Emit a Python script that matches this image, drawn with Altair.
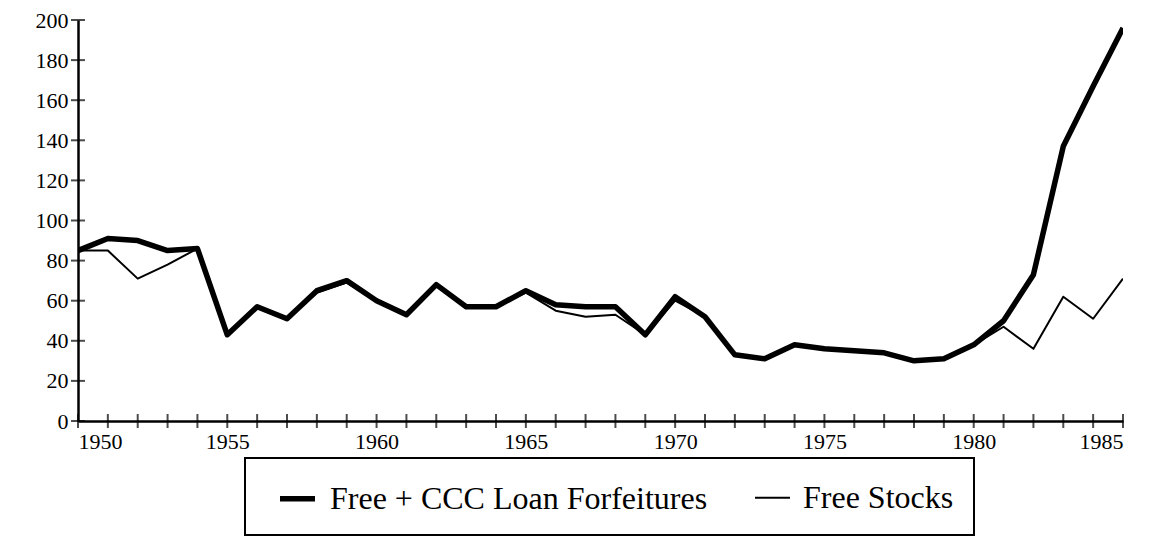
import altair as alt
import pandas as pd

years = list(range(1950, 1986))
free_ccc = [85, 91, 90, 85, 86, 43, 57, 51, 65, 70, 60, 53, 68, 57, 57, 65, 58, 57, 57, 43,
            62, 52, 33, 31, 38, 36, 35, 34, 30, 31, 38, 50, 73, 137, 167, 196]
free_stocks = [85, 85, 71, 78, 86, 43, 57, 51, 64, 69, 60, 53, 68, 57, 57, 64, 55, 52, 53, 43,
               60, 52, 33, 31, 38, 36, 35, 34, 30, 31, 38, 47, 36, 62, 51, 71]
series_names = ["Free + CCC Loan Forfeitures", "Free Stocks"]
x_label_years = [1950, 1955, 1960, 1965, 1970, 1975, 1980, 1985]
y_ticks = [0, 20, 40, 60, 80, 100, 120, 140, 160, 180, 200]

FONT = "Liberation Serif, DejaVu Serif, serif"

df = pd.DataFrame({
    "year": years * 2,
    "value": free_ccc + free_stocks,
    "series": [series_names[0]] * len(years) + [series_names[1]] * len(years),
})
xt = pd.DataFrame({"year": years, "value": [0] * len(years)})
yt = pd.DataFrame({"year": [1950] * len(y_ticks), "value": y_ticks})

xscale = alt.Scale(domain=[1950, 1985], nice=False)
yscale = alt.Scale(domain=[0, 200], nice=False)

lines = alt.Chart(df).mark_line(color="black", clip=True, strokeJoin="round").encode(
    x=alt.X("year:Q", scale=xscale,
            axis=alt.Axis(values=x_label_years, format="d", title=None, ticks=False,
                          labelFlush=True, labelPadding=10, grid=False,
                          domainColor="black", domainWidth=2.5,
                          labelFont=FONT, labelFontSize=22, labelColor="black")),
    y=alt.Y("value:Q", scale=yscale,
            axis=alt.Axis(values=y_ticks, title=None, ticks=False, grid=False,
                          labelPadding=10, domainColor="black", domainWidth=2.5,
                          labelFont=FONT, labelFontSize=22, labelColor="black")),
    strokeWidth=alt.StrokeWidth(
        "series:N",
        scale=alt.Scale(domain=series_names, range=[5.5, 2]),
        legend=alt.Legend(
            title=None, orient="none", legendX=167, legendY=438,
            direction="horizontal", symbolType="stroke", symbolSize=1225,
            symbolStrokeColor="black", strokeColor="black", padding=20,
            labelFont=FONT, labelFontSize=32, labelColor="black",
            columnPadding=34, labelLimit=700, symbolOffset=12, labelOffset=12,
        ),
    ),
    order=alt.Order("series:N", sort="ascending"),
)

xticks = alt.Chart(xt).mark_tick(color="black", thickness=2, size=14).encode(
    x=alt.X("year:Q", scale=xscale), y=alt.Y("value:Q", scale=yscale)
)
yticks = alt.Chart(yt).mark_tick(color="black", thickness=2, size=14, orient="horizontal").encode(
    x=alt.X("year:Q", scale=xscale), y=alt.Y("value:Q", scale=yscale)
)

chart = alt.layer(lines, xticks, yticks).properties(
    width=1045, height=401,
    autosize=alt.AutoSizeParams(type="none"),
    padding={"left": 70, "top": 12, "right": 20, "bottom": 117},
    background="white",
).configure_view(stroke=None).configure_legend(strokeWidth=2)

chart.save("out.html", embed_options={"renderer": "svg", "actions": False})
